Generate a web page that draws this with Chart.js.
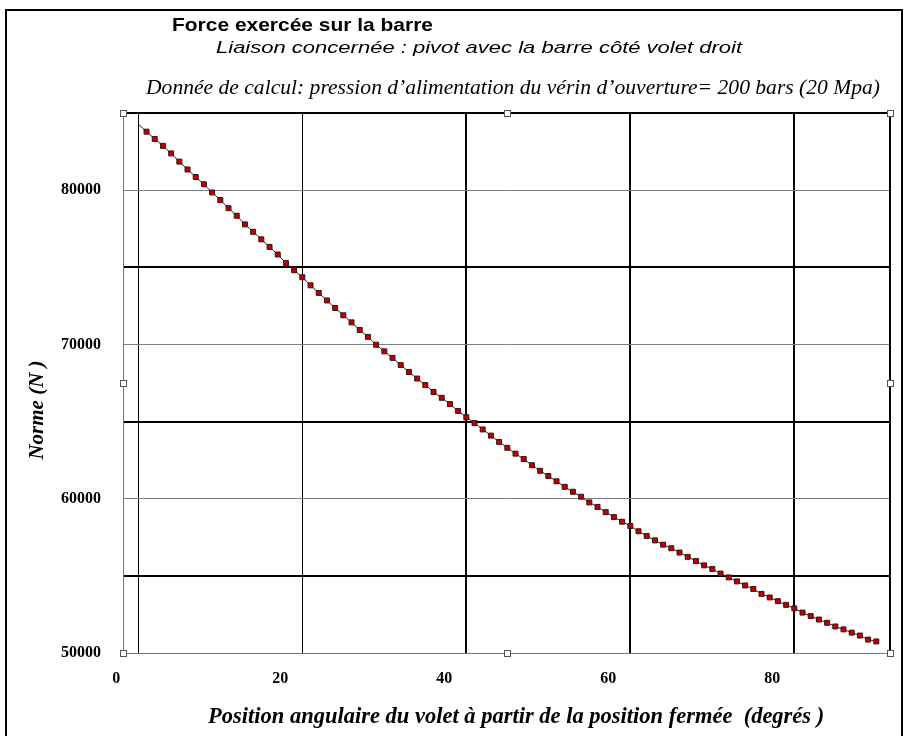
<!DOCTYPE html>
<html>
<head>
<meta charset="utf-8">
<script src="https://cdn.jsdelivr.net/npm/chart.js@4/dist/chart.umd.min.js"></script>
<style>
  body { margin: 0; background: #fff; }
  canvas { display: block; }
</style>
</head>
<body>
<canvas id="force" width="908" height="736"></canvas>
<script>
// angle du volet (degrés)
const angles = [0, 1, 2, 3, 4, 5, 6, 7, 8, 9, 10, 11, 12, 13, 14, 15, 16, 17, 18, 19, 20,
  21, 22, 23, 24, 25, 26, 27, 28, 29, 30, 31, 32, 33, 34, 35, 36, 37, 38, 39, 40,
  41, 42, 43, 44, 45, 46, 47, 48, 49, 50, 51, 52, 53, 54, 55, 56, 57, 58, 59, 60,
  61, 62, 63, 64, 65, 66, 67, 68, 69, 70, 71, 72, 73, 74, 75, 76, 77, 78, 79, 80,
  81, 82, 83, 84, 85, 86, 87, 88, 89, 90];

// norme de la force (N)
const norme = [84280, 83790, 83320, 82870, 82380, 81850, 81340, 80850, 80380, 79850, 79360,
  78830, 78340, 77780, 77300, 76810, 76320, 75830, 75270, 74810, 74350,
  73830, 73340, 72850, 72360, 71890, 71430, 70940, 70490, 69980, 69550,
  69130, 68660, 68210, 67790, 67370, 66920, 66540, 66130, 65690, 65280,
  64900, 64490, 64090, 63680, 63300, 62920, 62570, 62170, 61810, 61470,
  61130, 60770, 60450, 60130, 59760, 59470, 59130, 58810, 58510, 58230,
  57890, 57590, 57300, 57020, 56790, 56510, 56230, 55960, 55680, 55450,
  55150, 54900, 54640, 54380, 54150, 53830, 53600, 53360, 53120, 52890,
  52620, 52390, 52170, 51960, 51720, 51530, 51320, 51130, 50870, 50750];

const xTicks = [0, 20, 40, 60, 80];
const yTicks = [50000, 55000, 60000, 65000, 70000, 75000, 80000, 85000];

const titre = "Force exercée sur la barre";
const sousTitre = "Liaison concernée : pivot avec la barre côté volet droit";
const donnee = "Donnée de calcul: pression d’alimentation du vérin d’ouverture= 200 bars (20 Mpa)";
const titreX = "Position angulaire du volet à partir de la position fermée  (degrés )";
const titreY = "Norme (N )";

const serif = "'Liberation Serif', 'Times New Roman', serif";
const sans = "'Liberation Sans', Arial, sans-serif";

// texte étiré horizontalement pour occuper la largeur voulue (le scan est élargi)
function stretchText(ctx, text, x, y, width) {
  const w = ctx.measureText(text).width;
  ctx.save();
  ctx.translate(x, y);
  ctx.scale(width / w, 1);
  ctx.fillText(text, 0, 0);
  ctx.restore();
}

const decor = {
  id: "decor",
  beforeDraw(chart) {
    const ctx = chart.ctx;
    ctx.save();
    ctx.fillStyle = "#fff";
    ctx.fillRect(0, 0, chart.width, chart.height);
    ctx.restore();
  },
  afterDraw(chart) {
    const ctx = chart.ctx;
    const a = chart.chartArea;
    ctx.save();

    // cadre extérieur
    ctx.strokeStyle = "#000";
    ctx.lineWidth = 2;
    ctx.strokeRect(6, 10, chart.width - 12, chart.height + 10);

    // bords de la zone de tracé
    ctx.lineWidth = 1;
    ctx.strokeStyle = "#777";
    ctx.beginPath();
    ctx.moveTo(a.left + 0.5, a.top); ctx.lineTo(a.left + 0.5, a.bottom);
    ctx.moveTo(a.left, a.bottom + 0.5); ctx.lineTo(a.right, a.bottom + 0.5);
    ctx.stroke();
    ctx.lineWidth = 2;
    ctx.strokeStyle = "#000";
    ctx.beginPath();
    ctx.moveTo(a.left, a.top); ctx.lineTo(a.right, a.top);
    ctx.lineTo(a.right, a.bottom);
    ctx.stroke();

    // poignées de sélection
    const mx = (a.left + a.right) / 2, my = (a.top + a.bottom) / 2;
    const pts = [[a.left, a.top], [mx, a.top], [a.right, a.top], [a.left, my],
      [a.right, my], [a.left, a.bottom], [mx, a.bottom], [a.right, a.bottom]];
    ctx.lineWidth = 1;
    ctx.strokeStyle = "#555";
    ctx.fillStyle = "#fff";
    pts.forEach(p => {
      ctx.fillRect(Math.round(p[0]) - 3, Math.round(p[1]) - 3, 6, 6);
      ctx.strokeRect(Math.round(p[0]) - 2.5, Math.round(p[1]) - 2.5, 6, 6);
    });

    // titres
    ctx.fillStyle = "#000";
    ctx.textBaseline = "alphabetic";
    ctx.textAlign = "left";
    ctx.font = "bold 19px " + sans;
    stretchText(ctx, titre, 172, 31, 261);
    ctx.font = "italic 17px " + sans;
    stretchText(ctx, sousTitre, 216, 53, 526);
    ctx.font = "italic 21px " + serif;
    stretchText(ctx, donnee, 146, 94, 734);

    ctx.font = "bold italic 22.5px " + serif;
    ctx.fillText(titreX, 208, 723);
    ctx.textAlign = "center";
    ctx.textBaseline = "middle";
    ctx.font = "bold italic 21px " + serif;
    ctx.translate(38, 410);
    ctx.rotate(-Math.PI / 2);
    ctx.fillText(titreY, 0, 0);
    ctx.restore();
  }
};

new Chart("force", {
  type: "line",
  data: {
    labels: angles,
    datasets: [{
      data: angles.map((x, i) => ({ x: x, y: norme[i] })),
      borderColor: "#222",
      borderWidth: 1,
      tension: 0,
      pointStyle: "rect",
      pointRadius: ctx => ctx.dataIndex === 0 ? 0 : 3.5,
      pointBackgroundColor: "#c00000",
      pointBorderColor: "#3a1010",
      pointBorderWidth: 1
    }]
  },
  options: {
    responsive: false,
    animation: false,
    layout: { padding: { top: 113, right: 18, left: 0, bottom: 0 } },
    plugins: {
      legend: { display: false },
      tooltip: { enabled: false }
    },
    scales: {
      x: {
        type: "linear",
        min: -1.87,
        max: 91.67,
        afterBuildTicks: scale => { scale.ticks = xTicks.map(v => ({ value: v })); },
        afterFit: scale => { scale.height = 83; },
        border: { display: false },
        grid: {
          color: "#000",
          lineWidth: ctx => ctx.tick && ctx.tick.value >= 40 ? 2 : 1,
          drawTicks: false
        },
        ticks: {
          padding: 16,
          labelOffset: -22,
          color: "#000",
          font: { family: serif, size: 16, weight: "bold" }
        }
      },
      y: {
        min: 50000,
        max: 85000,
        afterBuildTicks: scale => { scale.ticks = yTicks.map(v => ({ value: v })); },
        afterFit: scale => { scale.width = 123; },
        border: { display: false },
        grid: {
          color: ctx => ctx.tick && ctx.tick.value % 10000 === 0 ? "#808080" : "#000",
          lineWidth: ctx => ctx.tick && ctx.tick.value % 10000 === 0 ? 1 : 2,
          drawTicks: false
        },
        ticks: {
          padding: 22,
          color: "#000",
          font: { family: serif, size: 16, weight: "bold" },
          callback: v => v % 10000 === 0 ? String(v) : ""
        }
      }
    }
  },
  plugins: [decor]
});
</script>
</body>
</html>
